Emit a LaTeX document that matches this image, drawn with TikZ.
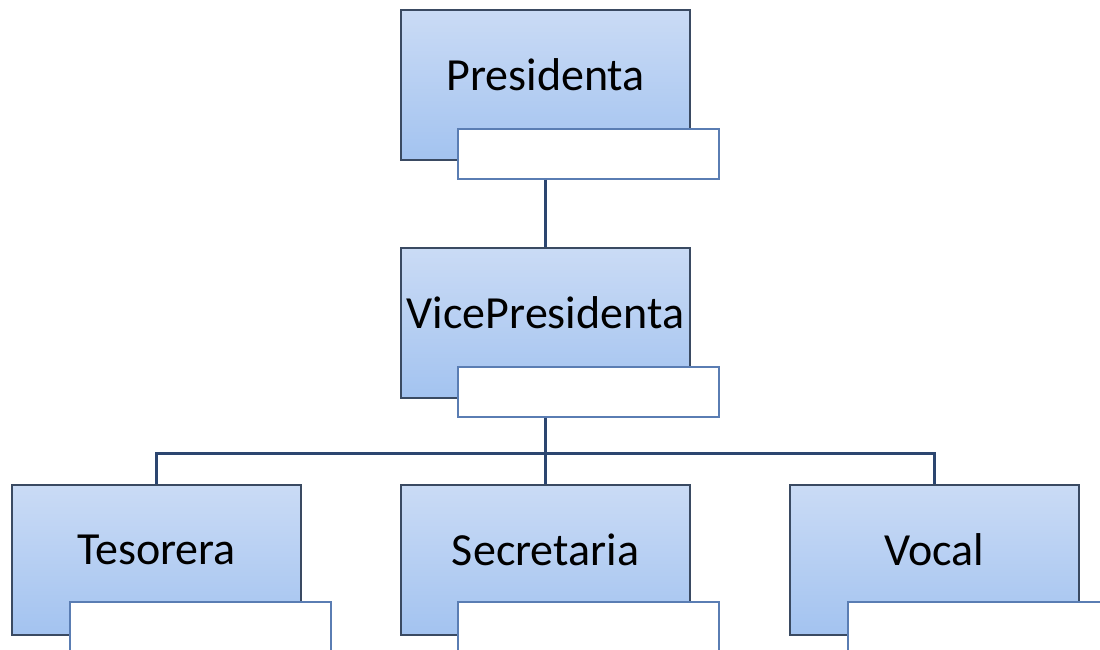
\documentclass[tikz,border=0pt]{standalone}
\usepackage{fontspec}
\setmainfont{Carlito}
\usetikzlibrary{positioning}
\definecolor{boxtop}{HTML}{CADBF5}
\definecolor{boxbot}{HTML}{A3C3F0}
\definecolor{boxline}{HTML}{3A4A62}
\definecolor{nameline}{HTML}{5A7DB3}
\definecolor{linkcol}{HTML}{2C4670}
\tikzset{
  rolebox/.style={
    draw=boxline,
    line width=2pt,
    top color=boxtop,
    bottom color=boxbot,
    minimum width=289pt,
    minimum height=150pt,
    inner sep=0pt
  },
  namebox/.style={
    draw=nameline,
    fill=white,
    line width=1.5pt,
    minimum width=261pt,
    minimum height=50pt,
    inner sep=0pt,
    anchor=north west
  },
  roletext/.style={
    font=\fontsize{46pt}{54pt}\selectfont,
    text=black
  },
  link/.style={
    draw=linkcol,
    line width=2.2pt
  }
}

\begin{document}
\begin{tikzpicture}[x=1pt,y=-1pt]
  \useasboundingbox[fill=white] (0,0) rectangle (1100,649);

  % Role boxes
  \node[rolebox] (pres) at (545.5,85) {};
  \node[rolebox] (vice) at (545.5,323) {};
  \node[rolebox] (teso) at (156.5,560) {};
  \node[rolebox] (secr) at (545.5,560) {};
  \node[rolebox] (voc) at (934.5,560) {};

  % Role names
  \node[roletext] (pres-t) at ([yshift=10pt]pres.center) {Presidenta};
  \node[roletext] (vice-t) at ([yshift=10pt]vice.center) {VicePresidenta};
  \node[roletext] (teso-t) at ([yshift=10pt]teso.center) {Tesorera};
  \node[roletext] (secr-t) at ([yshift=10pt]secr.center) {Secretaria};
  \node[roletext] (voc-t) at ([yshift=10pt]voc.center) {Vocal};

  % Name fields
  \node[namebox] (pres-n) at ([xshift=57pt,yshift=33pt]pres.south west) {};
  \node[namebox] (vice-n) at ([xshift=57pt,yshift=33pt]vice.south west) {};
  \node[namebox] (teso-n) at ([xshift=58pt,yshift=35pt]teso.south west) {};
  \node[namebox] (secr-n) at ([xshift=57pt,yshift=35pt]secr.south west) {};
  \node[namebox] (voc-n) at ([xshift=58pt,yshift=35pt]voc.south west) {};

  % Links
  \draw[link] (pres-n.south -| pres.center) -- (vice.north);
  \draw[link] (vice-n.south -| vice.center) -- ++(0,36) coordinate (bus);
  \draw[link] (bus) -| (teso.north);
  \draw[link] (bus) -- (secr.north);
  \draw[link] (bus) -| (voc.north);
\end{tikzpicture}
\end{document}
